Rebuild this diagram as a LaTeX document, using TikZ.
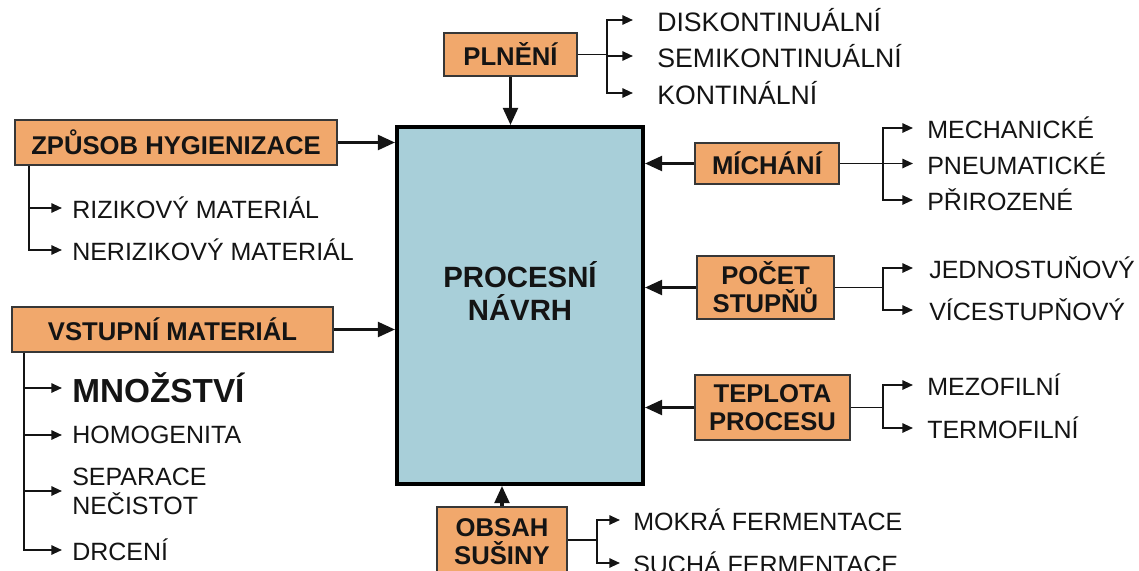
\documentclass[tikz,border=0pt]{standalone}
\usepackage{fontspec}
\setmainfont{Liberation Sans}
\usepackage{tikz}
\usetikzlibrary{arrows.meta,positioning,calc}
\definecolor{boxorange}{RGB}{241,168,108}
\definecolor{procblue}{RGB}{168,207,217}
\definecolor{ink}{RGB}{20,20,20}
\newcommand{\itemfont}{\fontsize{18.75}{21.75}\selectfont}

\begin{document}
\begin{tikzpicture}[x=0.75pt, y=-0.75pt,
    box/.style={rectangle, draw=ink!85, line width=1.2pt, fill=boxorange, inner sep=0pt,
        align=center, text=ink, font=\bfseries\fontsize{19.25}{21}\selectfont},
    proc/.style={rectangle, draw=black, line width=2.8pt, fill=procblue, inner sep=0pt},
    item/.style={anchor=west, inner xsep=#1, inner ysep=0pt, align=left, text=ink, font=\itemfont},
    item/.default=7.5pt,
    arrow/.style={line width=2.6pt, draw=ink, -{Triangle[length=13pt,width=11pt]}},
    tip/.style={line width=1.4pt, draw=ink, -{Triangle[length=8pt,width=7pt]}},
    branch/.style={line width=1.4pt, draw=ink}
]
\useasboundingbox (0,0) rectangle (1139,571);
\clip (0,0) rectangle (1139,571);

% main box
\node[proc, minimum width=184.5pt, minimum height=267.75pt] (proc) at (520,305.5) {};
\node[align=center, text=ink, font=\bfseries\fontsize{22}{24.75}\selectfont] (proctext) at (520,291) {PROCESNÍ\\NÁVRH};

% category boxes
\node[box, minimum width=99.75pt, minimum height=32.25pt] (plneni) at (510.5,54.5) {PLNĚNÍ};
\node[box, minimum width=241.5pt, minimum height=33.75pt] (hyg) at (176,142.5) {ZPŮSOB HYGIENIZACE};
\node[box, minimum width=240.75pt, minimum height=33.75pt] (vstup) at (172.5,329.5) {VSTUPNÍ MATERIÁL};
\node[box, minimum width=108pt, minimum height=30.75pt] (michani) at (767,163.5) {MÍCHÁNÍ};
\node[box, minimum width=102.75pt, minimum height=47.25pt] (pocet) at (765.5,287.5) {POČET\\STUPŇŮ};
\node[box, minimum width=116.25pt, minimum height=48.75pt] (teplota) at (772.5,407.5) {TEPLOTA\\PROCESU};
\node[box, minimum width=97.5pt, minimum height=52.5pt] (obsah) at (502,542) {OBSAH\\SUŠINY};

% arrows into the main box
\draw[arrow] (plneni.south) -- (plneni.south |- proc.north);
\draw[arrow] (hyg.east) -- (hyg.east -| proc.west);
\draw[arrow] (vstup.east) -- (vstup.east -| proc.west);
\draw[arrow] (michani.west) -- (michani.west -| proc.east);
\draw[arrow] (pocet.west) -- (pocet.west -| proc.east);
\draw[arrow] (teplota.west) -- (teplota.west -| proc.east);
\draw[arrow] (obsah.north) -- (obsah.north |- proc.south);

% PLNENI
\node[item=18pt, font=\fontsize{20}{24}\selectfont] (disk) at (633,20) {DISKONTINUÁLNÍ};
\node[item=18pt, font=\fontsize{20}{24}\selectfont] (semi) at (633,56) {SEMIKONTINUÁLNÍ};
\node[item=18pt, font=\fontsize{20}{24}\selectfont] (kont) at (633,93) {KONTINÁLNÍ};
\coordinate (pj) at (607,54.5);
\draw[branch] (plneni.east) -- (pj);
\foreach \n in {disk,semi,kont}
    \draw[tip] (pj) |- (\n.west);

% HYGIENIZACE
\node[item] (riz) at (62,208) {RIZIKOVÝ MATERIÁL};
\node[item] (nriz) at (62,250) {NERIZIKOVÝ MATERIÁL};
\coordinate (hj) at ($(hyg.south west)+(15,0)$);
\foreach \n in {riz,nriz}
    \draw[tip] (hj) |- (\n.west);

% VSTUPNI MATERIAL
\node[item, font=\bfseries\fontsize{25}{30}\selectfont] (mnoz) at (62,388) {MNOŽSTVÍ};
\node[item] (homo) at (62,435) {HOMOGENITA};
\node[item] (sep) at (62,491) {SEPARACE\\NEČISTOT};
\node[item] (drc) at (62,550) {DRCENÍ};
\coordinate (vj) at ($(vstup.south west)+(13,0)$);
\foreach \n in {mnoz,homo,sep,drc}
    \draw[tip] (vj) |- (\n.west);

% MICHANI
\node[item=10.5pt] (mech) at (913,128) {MECHANICKÉ};
\node[item=10.5pt] (pneu) at (913,163.5) {PNEUMATICKÉ};
\node[item=10.5pt] (prir) at (913,200) {PŘIROZENÉ};
\coordinate (mj) at (883,163.5);
\draw[branch] (michani.east) -- (mj);
\foreach \n in {mech,pneu,prir}
    \draw[tip] (mj) |- (\n.west);

% POCET STUPNU
\node[item=12pt] (jedn) at (913,268) {JEDNOSTUŇOVÝ};
\node[item=12pt] (vice) at (913,310) {VÍCESTUPŇOVÝ};
\coordinate (sj) at (883,287.5);
\draw[branch] (pocet.east) -- (sj);
\foreach \n in {jedn,vice}
    \draw[tip] (sj) |- (\n.west);

% TEPLOTA
\node[item=10.5pt] (mezo) at (913,385) {MEZOFILNÍ};
\node[item=10.5pt] (termo) at (913,428) {TERMOFILNÍ};
\coordinate (tj) at (883,407.5);
\draw[branch] (teplota.east) -- (tj);
\foreach \n in {mezo,termo}
    \draw[tip] (tj) |- (\n.west);

% OBSAH SUSINY
\node[item=9.75pt] (mokra) at (620,520) {MOKRÁ FERMENTACE};
\node[item=9.75pt] (sucha) at (620,563) {SUCHÁ FERMENTACE};
\coordinate (oj) at (597,540);
\draw[branch] (obsah.east |- oj) -- (oj);
\foreach \n in {mokra,sucha}
    \draw[tip] (oj) |- (\n.west);
\end{tikzpicture}
\end{document}
